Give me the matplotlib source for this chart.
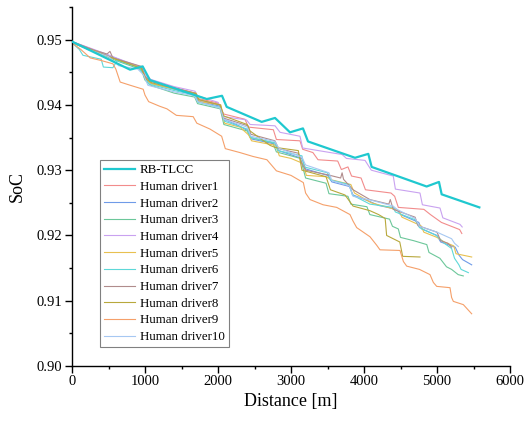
import matplotlib
matplotlib.use('Agg')
import matplotlib.pyplot as plt
from matplotlib.ticker import MultipleLocator

# ---- data (distance in m, SoC) ----
rb_x = [0, 795, 968, 1068, 1845, 2055, 2119, 2598, 2781, 2986, 3164, 3233,
        3877, 4059, 4105, 4858, 5027, 5064, 5580]
rb_y = [0.9497, 0.9454, 0.9459, 0.9438, 0.9409, 0.9414, 0.9397, 0.9374,
        0.9380, 0.9358, 0.9364, 0.9344, 0.9319, 0.9325, 0.9305, 0.9275,
        0.9282, 0.9263, 0.9243]

d1_x = [0, 300, 600, 950, 1000, 1070, 1400, 1680, 1720, 2000, 2080, 2370,
        2415, 2758, 2800, 3123, 3160, 3300, 3370, 3640, 3690, 3780, 3830,
        3960, 4020, 4370, 4420, 4470, 4820, 4910, 5060, 5310, 5340]
d1_y = [0.9497, 0.9484, 0.9471, 0.9457, 0.9444, 0.9437, 0.9427, 0.9418,
        0.9410, 0.9403, 0.9386, 0.9378, 0.9366, 0.9362, 0.9347, 0.9345,
        0.9332, 0.9327, 0.9316, 0.9314, 0.9301, 0.9305, 0.9291, 0.9288,
        0.9270, 0.9265, 0.9260, 0.9243, 0.9240, 0.9232, 0.9220, 0.9209,
        0.9203]

d2_x = [0, 250, 500, 800, 950, 1000, 1080, 1400, 1680, 1720, 2030, 2080,
        2250, 2420, 2450, 2780, 2830, 3150, 3200, 3500, 3560, 3800, 3850,
        4080, 4200, 4450, 4500, 4750, 4790, 5000, 5050, 5250, 5300, 5350,
        5475]
d2_y = [0.9496, 0.9484, 0.9476, 0.9463, 0.9456, 0.9440, 0.9433, 0.9424,
        0.9416, 0.9406, 0.9398, 0.9378, 0.9370, 0.9360, 0.9348, 0.9340,
        0.9330, 0.9318, 0.9302, 0.9292, 0.9282, 0.9275, 0.9262, 0.9252,
        0.9246, 0.9240, 0.9232, 0.9220, 0.9210, 0.9200, 0.9190, 0.9182,
        0.9170, 0.9163, 0.9155]

d3_x = [0, 300, 600, 950, 1000, 1080, 1400, 1680, 1720, 2030, 2080, 2400,
        2440, 2750, 2800, 3130, 3200, 3480, 3520, 3780, 3820, 4040, 4080,
        4350, 4390, 4470, 4500, 4680, 4860, 4890, 5040, 5130, 5200, 5290,
        5360]
d3_y = [0.9496, 0.9483, 0.9468, 0.9454, 0.9438, 0.9430, 0.9418, 0.9412,
        0.9402, 0.9394, 0.9370, 0.9360, 0.9350, 0.9342, 0.9328, 0.9318,
        0.9288, 0.9280, 0.9264, 0.9260, 0.9248, 0.9244, 0.9232, 0.9225,
        0.9214, 0.9210, 0.9197, 0.9192, 0.9186, 0.9174, 0.9165, 0.9152,
        0.9148, 0.9140, 0.9138]

d4_x = [0, 300, 700, 950, 1010, 1080, 1400, 1685, 1720, 2000, 2040, 2080,
        2390, 2440, 2781, 2850, 3123, 3160, 3700, 3760, 4014, 4100, 4401,
        4430, 4767, 4800, 5041, 5080, 5315, 5345]
d4_y = [0.9497, 0.9485, 0.9468, 0.9458, 0.9445, 0.9439, 0.9428, 0.9421,
        0.9414, 0.9404, 0.9396, 0.9382, 0.9377, 0.9370, 0.9368, 0.9358,
        0.9352, 0.9334, 0.9324, 0.9318, 0.9315, 0.9300, 0.9291, 0.9271,
        0.9265, 0.9247, 0.9242, 0.9227, 0.9217, 0.9213]

d5_x = [0, 300, 600, 950, 1020, 1100, 1450, 1700, 1740, 2040, 2090, 2300,
        2420, 2460, 2790, 2840, 3000, 3170, 3210, 3480, 3560, 3820, 3870,
        4100, 4300, 4480, 4520, 4780, 4820, 5000, 5100, 5230, 5260, 5475]
d5_y = [0.9495, 0.9482, 0.9470, 0.9457, 0.9438, 0.9432, 0.9423, 0.9418,
        0.9405, 0.9400, 0.9372, 0.9366, 0.9354, 0.9345, 0.9338, 0.9322,
        0.9318, 0.9310, 0.9292, 0.9290, 0.9285, 0.9278, 0.9265, 0.9250,
        0.9244, 0.9238, 0.9228, 0.9215, 0.9205, 0.9197, 0.9190, 0.9184,
        0.9172, 0.9167]

d6_x = [0, 100, 150, 400, 430, 560, 620, 900, 980, 1050, 1400, 1690, 1730,
        2040, 2090, 2400, 2450, 2780, 2820, 3150, 3180, 3500, 3540, 3800,
        3840, 4080, 4400, 4430, 4700, 4760, 4990, 5100, 5200, 5240, 5300,
        5330, 5430]
d6_y = [0.9495, 0.9485, 0.9476, 0.9470, 0.9458, 0.9457, 0.9468, 0.9458,
        0.9447, 0.9432, 0.9422, 0.9415, 0.9404, 0.9396, 0.9375, 0.9363,
        0.9350, 0.9342, 0.9330, 0.9322, 0.9305, 0.9296, 0.9285, 0.9278,
        0.9262, 0.9248, 0.9243, 0.9236, 0.9224, 0.9212, 0.9200, 0.9188,
        0.9180, 0.9165, 0.9155, 0.9148, 0.9143]

d7_x = [0, 300, 480, 520, 560, 950, 1000, 1080, 1400, 1690, 1730, 2030,
        2070, 2410, 2450, 2780, 2830, 3100, 3150, 3200, 3500, 3680, 3700,
        3720, 3850, 4080, 4340, 4360, 4400, 4700, 4740, 5000, 5050, 5150,
        5200]
d7_y = [0.9497, 0.9484, 0.9478, 0.9482, 0.9472, 0.9459, 0.9443, 0.9436,
        0.9426, 0.9418, 0.9408, 0.9400, 0.9380, 0.9368, 0.9355, 0.9345,
        0.9333, 0.9326, 0.9310, 0.9300, 0.9293, 0.9288, 0.9296, 0.9286,
        0.9270, 0.9255, 0.9248, 0.9255, 0.9240, 0.9228, 0.9215, 0.9205,
        0.9192, 0.9188, 0.9182]

d8_x = [0, 300, 600, 950, 1010, 1090, 1450, 1700, 1740, 2030, 2080, 2400,
        2440, 2712, 2780, 3100, 3150, 3480, 3540, 3740, 3850, 4080, 4200,
        4290, 4310, 4490, 4530, 4767]
d8_y = [0.9495, 0.9483, 0.9470, 0.9456, 0.9440, 0.9434, 0.9424, 0.9417,
        0.9408, 0.9400, 0.9383, 0.9370, 0.9360, 0.9338, 0.9335, 0.9330,
        0.9300, 0.9290, 0.9270, 0.9262, 0.9245, 0.9238, 0.9232, 0.9226,
        0.9200, 0.9190, 0.9168, 0.9167]

d9_x = [0, 120, 250, 400, 560, 600, 660, 800, 975, 1000, 1050, 1200, 1300,
        1430, 1660, 1710, 1890, 2050, 2100, 2300, 2480, 2670, 2800, 3000,
        3169, 3200, 3260, 3440, 3626, 3808, 3850, 3900, 4082, 4174, 4219,
        4493, 4540, 4585, 4760, 4904, 4950, 4996, 5178, 5200, 5224, 5361,
        5475]
d9_y = [0.9495, 0.9485, 0.9472, 0.9468, 0.9463, 0.9455, 0.9435, 0.9430,
        0.9424, 0.9415, 0.9405, 0.9398, 0.9394, 0.9384, 0.9382, 0.9372,
        0.9363, 0.9352, 0.9333, 0.9327, 0.9321, 0.9316, 0.9299, 0.9292,
        0.9281, 0.9265, 0.9255, 0.9247, 0.9243, 0.9232, 0.9222, 0.9212,
        0.9198, 0.9185, 0.9178, 0.9177, 0.9160, 0.9153, 0.9148, 0.9140,
        0.9128, 0.9122, 0.9120, 0.9105, 0.9099, 0.9094, 0.9080]

d10_x = [0, 200, 500, 640, 900, 980, 1040, 1400, 1680, 1720, 2030, 2080,
         2400, 2450, 2780, 2830, 3150, 3200, 3520, 3560, 3800, 3850, 4100,
         4400, 4450, 4700, 4760, 5000, 5200, 5240, 5292]
d10_y = [0.9496, 0.9486, 0.9474, 0.9460, 0.9455, 0.9446, 0.9430, 0.9420,
         0.9414, 0.9405, 0.9395, 0.9378, 0.9366, 0.9352, 0.9344, 0.9334,
         0.9320, 0.9308, 0.9296, 0.9284, 0.9276, 0.9260, 0.9254, 0.9245,
         0.9240, 0.9226, 0.9214, 0.9205, 0.9195, 0.9188, 0.9183]

driver_labels = ['Human driver%d' % i for i in range(1, 11)]
driver_x = [d1_x, d2_x, d3_x, d4_x, d5_x, d6_x, d7_x, d8_x, d9_x, d10_x]
driver_y = [d1_y, d2_y, d3_y, d4_y, d5_y, d6_y, d7_y, d8_y, d9_y, d10_y]

x_ticks = [0, 1000, 2000, 3000, 4000, 5000, 6000]
y_ticks = [0.90, 0.91, 0.92, 0.93, 0.94, 0.95]

# ---- style ----
driver_colors = ['#f28c8c', '#6f9be8', '#6cc79a', '#c9a2f0', '#e8c050',
                 '#5ed8d8', '#b08c8c', '#b8a83c', '#f5a06a', '#a6c8f2']
rb_color = '#1fc8cf'

plt.rcParams['font.family'] = ['Liberation Serif', 'DejaVu Serif']

fig = plt.figure(figsize=(5.27, 4.22), dpi=100)
ax = fig.add_axes([72/527, 56/422, 438/527, 359/422])

ax.plot(rb_x, rb_y, color=rb_color, lw=1.6, label='RB-TLCC', zorder=5)
for xs, ys, c, lab in zip(driver_x, driver_y, driver_colors, driver_labels):
    ax.plot(xs, ys, color=c, lw=0.8, label=lab)

ax.set_xlim(0, 6000)
ax.set_ylim(0.90, 0.955)
ax.set_xticks(x_ticks)
ax.set_yticks(y_ticks)
ax.set_yticklabels(['%.2f' % v for v in y_ticks])
ax.xaxis.set_minor_locator(MultipleLocator(500))
ax.yaxis.set_minor_locator(MultipleLocator(0.005))

for side in ('top', 'right'):
    ax.spines[side].set_visible(False)
for side in ('left', 'bottom'):
    ax.spines[side].set_linewidth(1.0)

ax.tick_params(which='major', direction='out', length=4.8, width=1.0,
               labelsize=10.5, pad=2)
ax.tick_params(which='minor', direction='out', length=2.4, width=1.0)

ax.set_xlabel('Distance [m]', fontsize=13, labelpad=3)
ax.set_ylabel('SoC', fontsize=13, labelpad=8)

leg = ax.legend(loc='lower left', bbox_to_anchor=(0.064, 0.053),
                fontsize=9.3, frameon=True, fancybox=False,
                edgecolor='#808080', framealpha=1,
                handlelength=2.4, handletextpad=0.4, labelspacing=0.36,
                borderpad=0.3, borderaxespad=0)
leg.get_frame().set_linewidth(0.8)

fig.savefig('out.png', dpi=100)
